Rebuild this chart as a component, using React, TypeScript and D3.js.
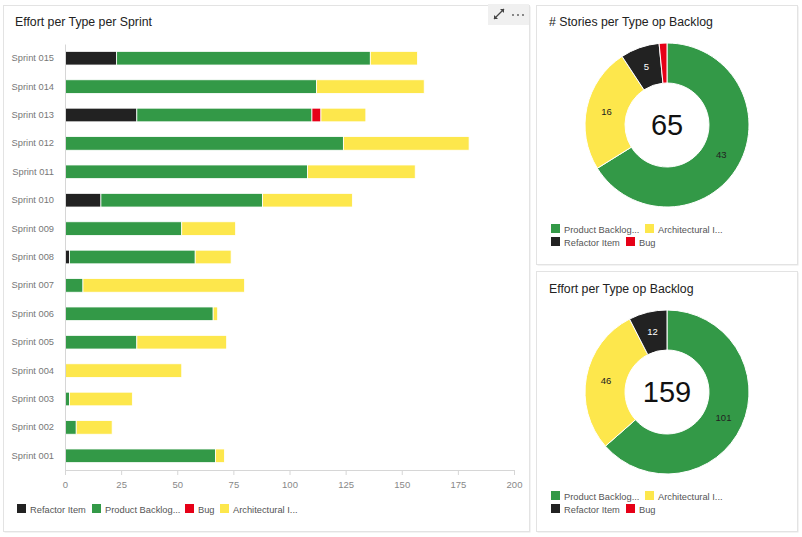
import React, { useRef, useEffect } from 'react';
import * as d3 from 'd3';

const sprints = ['Sprint 001', 'Sprint 002', 'Sprint 003', 'Sprint 004', 'Sprint 005', 'Sprint 006', 'Sprint 007', 'Sprint 008', 'Sprint 009', 'Sprint 010', 'Sprint 011', 'Sprint 012', 'Sprint 013', 'Sprint 014', 'Sprint 015'];
const refactorEffort = [0, 0, 0, 0, 0, 0, 0, 2, 0, 16, 0, 0, 32, 0, 23];
const pbiEffort = [67, 5, 2, 0, 32, 66, 8, 56, 52, 72, 108, 124, 78, 112, 113];
const bugEffort = [0, 0, 0, 0, 0, 0, 0, 0, 0, 0, 0, 0, 4, 0, 0];
const archEffort = [4, 16, 28, 52, 40, 2, 72, 16, 24, 40, 48, 56, 20, 48, 21];
const xTicks = [0, 25, 50, 75, 100, 125, 150, 175, 200];

const barTypes = ['Refactor Item', 'Product Backlog...', 'Bug', 'Architectural I...'];
const donutTypes = ['Product Backlog...', 'Architectural I...', 'Refactor Item', 'Bug'];
const storyCounts = [43, 16, 5, 1];
const effortTotals = [101, 46, 12, 0];

const colors: Record<string, string> = {
  'Refactor Item': '#222222',
  'Product Backlog...': '#339947',
  'Bug': '#e60017',
  'Architectural I...': '#fde74c',
};
const labelColors: Record<string, string> = {
  'Refactor Item': '#ffffff',
  'Product Backlog...': '#222222',
  'Bug': '#ffffff',
  'Architectural I...': '#222222',
};

const font = '"Liberation Sans", Arial, sans-serif';

export default function App() {
  const ref = useRef<SVGSVGElement>(null);

  useEffect(() => {
    const svg = d3.select(ref.current);
    svg.selectAll('*').remove();
    svg.attr('width', 802).attr('height', 537).style('background', '#ffffff').style('font-family', font);

    //----------- panels -----------//
    const panels = [
      { x: 3.5, y: 5.5, w: 526, h: 526 },
      { x: 536.5, y: 5.5, w: 261, h: 259 },
      { x: 536.5, y: 271.5, w: 261, h: 260 },
    ];
    svg.append('g').selectAll('rect').data(panels).join('rect')
      .attr('x', d => d.x + 1).attr('y', d => d.y + 1).attr('width', d => d.w).attr('height', d => d.h)
      .attr('fill', '#e8e8e8');
    svg.append('g').selectAll('rect').data(panels).join('rect')
      .attr('x', d => d.x).attr('y', d => d.y).attr('width', d => d.w).attr('height', d => d.h)
      .attr('fill', '#ffffff').attr('stroke', '#e3e3e3');

    // toolbar
    const tb = svg.append('g');
    tb.append('rect').attr('x', 488).attr('y', 4).attr('width', 41).attr('height', 21).attr('fill', '#f0f0f0');
    tb.append('line').attr('x1', 494).attr('y1', 19).attr('x2', 504).attr('y2', 9).attr('stroke', '#444').attr('stroke-width', 1.2);
    tb.append('path').attr('d', 'M494,19 l0,-4 l4,4 z M504,9 l0,4 l-4,-4 z').attr('fill', '#444');
    tb.selectAll('circle').data([513, 518, 523]).join('circle')
      .attr('cx', d => d).attr('cy', 15).attr('r', 0.9).attr('fill', '#555');

    //----------- bar chart -----------//
    svg.append('text').attr('x', 15).attr('y', 26).text('Effort per Type per Sprint')
      .attr('fill', '#222').style('font-size', '12.3px');

    const rows = sprints.map((s, i) => ({
      sprint: s,
      'Refactor Item': refactorEffort[i],
      'Product Backlog...': pbiEffort[i],
      'Bug': bugEffort[i],
      'Architectural I...': archEffort[i],
    }));

    const xScale = d3.scaleLinear().domain([0, 200]).range([65, 514]);
    const yScale = d3.scaleBand().domain(sprints.slice().reverse()).range([44, 470]).paddingInner(0.52).paddingOuter(0.26);

    const stack = d3.stack<any>().keys(barTypes)(rows);

    svg.append('g').selectAll('g').data(stack).join('g')
      .attr('fill', d => colors[d.key])
      .selectAll('rect').data(d => d.filter(p => p[1] - p[0] > 0)).join('rect')
      .attr('x', p => xScale(p[0]))
      .attr('y', p => yScale(p.data.sprint)!)
      .attr('width', p => xScale(p[1]) - xScale(p[0]))
      .attr('height', yScale.bandwidth())
      .attr('stroke', '#ffffff').attr('stroke-width', 0.8);

    // axes
    const xAxis = svg.append('g').attr('transform', 'translate(0,470)')
      .call(d3.axisBottom(xScale).tickValues(xTicks).tickSize(5).tickSizeOuter(0).tickPadding(6));
    xAxis.select('.domain').attr('stroke', '#d6d6d6');
    xAxis.selectAll('.tick line').attr('stroke', '#d6d6d6');
    xAxis.selectAll('.tick text').attr('fill', '#888').style('font-size', '9.5px').style('font-family', font);

    const yAxis = svg.append('g').attr('transform', 'translate(65,0)')
      .call(d3.axisLeft(yScale).tickSize(0).tickPadding(11));
    yAxis.select('.domain').attr('stroke', '#d6d6d6');
    yAxis.selectAll('.tick text').attr('fill', '#777').style('font-size', '9.3px').style('font-family', font);

    // legend
    const legendX = [17, 92, 185, 220];
    const lg = svg.append('g').selectAll('g').data(barTypes).join('g')
      .attr('transform', (d, i) => `translate(${legendX[i]},504)`);
    lg.append('rect').attr('width', 9).attr('height', 9).attr('fill', d => colors[d]);
    lg.append('text').attr('x', 13).attr('y', 8.5).text(d => d).attr('fill', '#555').style('font-size', '9.3px');

    //----------- donuts -----------//
    const drawDonut = (values: number[], title: string, top: number) => {
      const g = svg.append('g');
      g.append('text').attr('x', 549).attr('y', top + 22).text(title).attr('fill', '#222').style('font-size', '12.3px');

      const cx = 667;
      const cy = top + 121;
      const data = donutTypes.map((t, i) => ({ type: t, value: values[i] }));
      const pie = d3.pie<any>().sort(null).value(d => d.value)(data);
      const arc = d3.arc<any>().innerRadius(42).outerRadius(82);
      const dg = g.append('g').attr('transform', `translate(${cx},${cy})`);
      dg.selectAll('path').data(pie.filter(p => p.value > 0)).join('path')
        .attr('d', arc).attr('fill', p => colors[p.data.type]).attr('stroke', '#fff').attr('stroke-width', 1);
      dg.selectAll('text.lbl').data(pie.filter(p => p.value >= 3)).join('text')
        .attr('class', 'lbl')
        .attr('transform', p => `translate(${arc.centroid(p)})`)
        .attr('text-anchor', 'middle').attr('dy', '0.35em')
        .text(p => p.value).attr('fill', p => labelColors[p.data.type]).style('font-size', '9.5px');
      const total = d3.sum(values);
      dg.append('text').attr('text-anchor', 'middle').attr('dy', '0.36em').text(total)
        .attr('fill', '#111').style('font-size', '29px');

      const pos = [[551, top + 220], [645, top + 220], [551, top + 233], [626, top + 233]];
      const lg2 = g.append('g').selectAll('g').data(donutTypes).join('g')
        .attr('transform', (d, i) => `translate(${pos[i][0]},${pos[i][1]})`);
      lg2.append('rect').attr('width', 9).attr('height', 9).attr('fill', d => colors[d]);
      lg2.append('text').attr('x', 13).attr('y', 8.5).text(d => d).attr('fill', '#555').style('font-size', '9.3px');
    };

    drawDonut(storyCounts, '# Stories per Type op Backlog', 4);
    drawDonut(effortTotals, 'Effort per Type op Backlog', 271);
  }, []);

  return (
    <div style={{ position: 'absolute', left: 0, top: 0 }}>
      <svg ref={ref}></svg>
    </div>
  );
}
